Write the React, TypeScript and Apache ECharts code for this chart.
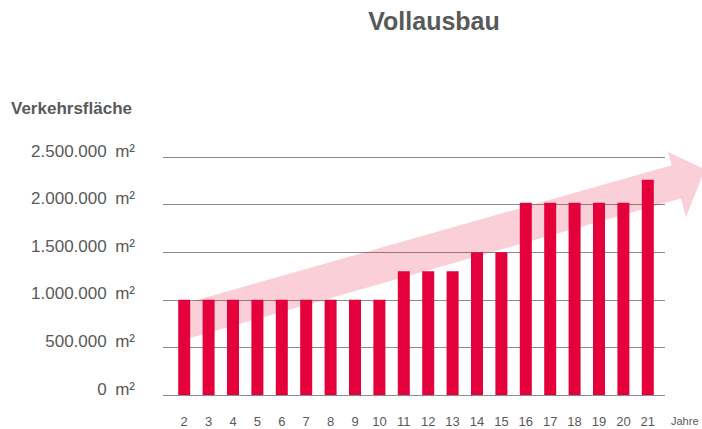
import React, { useEffect, useRef } from "react";
import * as echarts from "echarts";

const years = ["2", "3", "4", "5", "6", "7", "8", "9", "10", "11", "12", "13", "14", "15", "16", "17", "18", "19", "20", "21"];
const area = [
  1000000, 1000000, 1000000, 1000000, 1000000, 1000000, 1000000, 1000000, 1000000,
  1300000, 1300000, 1300000,
  1500000, 1500000,
  2020000, 2020000, 2020000, 2020000, 2020000,
  2260000,
];
const yMin = 0;
const yMax = 2500000;
const yStep = 500000;
const unit = "m²";
const titleText = "Vollausbau";
const yAxisTitle = "Verkehrsfläche";
const xAxisTitle = "Jahre";

const FONT = "'Liberation Sans', Arial, sans-serif";
const GRAY = "#595959";

function fmt(v: number): string {
  const s = Math.round(v).toString();
  return s.replace(/\B(?=(\d{3})+(?!\d))/g, ".");
}

export default function App() {
  const ref = useRef<HTMLDivElement>(null);
  useEffect(() => {
    if (!ref.current) return;
    const chart = echarts.init(ref.current, null, { renderer: "svg" });
    const top = 157;
    const height = 238;
    chart.setOption({
      animation: false,
      backgroundColor: "#ffffff",
      textStyle: { fontFamily: FONT },
      grid: [
        { left: 163, right: 37, top, height },
        { left: 172, width: 488, top, height },
      ],
      xAxis: [
        { gridIndex: 0, type: "value", show: false, min: 0, max: 1 },
        {
          gridIndex: 1,
          type: "category",
          data: years,
          axisLine: { show: false },
          axisTick: { show: false },
          axisLabel: { margin: 20, color: GRAY, fontSize: 13, fontFamily: FONT },
        },
      ],
      yAxis: [
        {
          gridIndex: 0,
          type: "value",
          min: yMin,
          max: yMax,
          interval: yStep,
          axisLine: { show: false },
          axisTick: { show: false },
          splitLine: { lineStyle: { color: "#8c8c8c", width: 1 } },
          axisLabel: {
            margin: 28,
            color: GRAY,
            fontSize: 17,
            fontFamily: FONT,
            verticalAlign: "bottom",
            lineHeight: 12,
            formatter: (v: number) => fmt(v) + "\u2002" + unit,
          },
        },
        { gridIndex: 1, type: "value", min: yMin, max: yMax, show: false },
      ],
      series: [
        {
          type: "bar",
          xAxisIndex: 1,
          yAxisIndex: 1,
          data: area,
          barWidth: 12,
          itemStyle: { color: "#e4003a" },
          z: 3,
        },
      ],
      graphic: [
        {
          type: "polygon",
          z: 1,
          shape: {
            points: [
              [180, 304.8],
              [671.6, 165.2],
              [668, 152],
              [705, 169.4],
              [686, 217],
              [680.9, 198.5],
              [180, 340.8],
            ],
          },
          style: { fill: "rgba(230, 0, 40, 0.19)" },
        },
        {
          type: "text",
          x: 434,
          y: 21,
          style: {
            text: titleText,
            fontSize: 25,
            fontWeight: "bold",
            fontFamily: FONT,
            fill: GRAY,
            textAlign: "center",
            textVerticalAlign: "middle",
          },
        },
        {
          type: "text",
          x: 11,
          y: 108,
          style: {
            text: yAxisTitle,
            fontSize: 17,
            fontWeight: "bold",
            fontFamily: FONT,
            fill: GRAY,
            textAlign: "left",
            textVerticalAlign: "middle",
          },
        },
        {
          type: "text",
          x: 671,
          y: 421,
          style: {
            text: xAxisTitle,
            fontSize: 11,
            fontFamily: FONT,
            fill: GRAY,
            textAlign: "left",
            textVerticalAlign: "middle",
          },
        },
      ],
    });
    return () => chart.dispose();
  }, []);
  return <div ref={ref} style={{ position: "fixed", left: 0, top: 0, width: 702, height: 429 }} />;
}
